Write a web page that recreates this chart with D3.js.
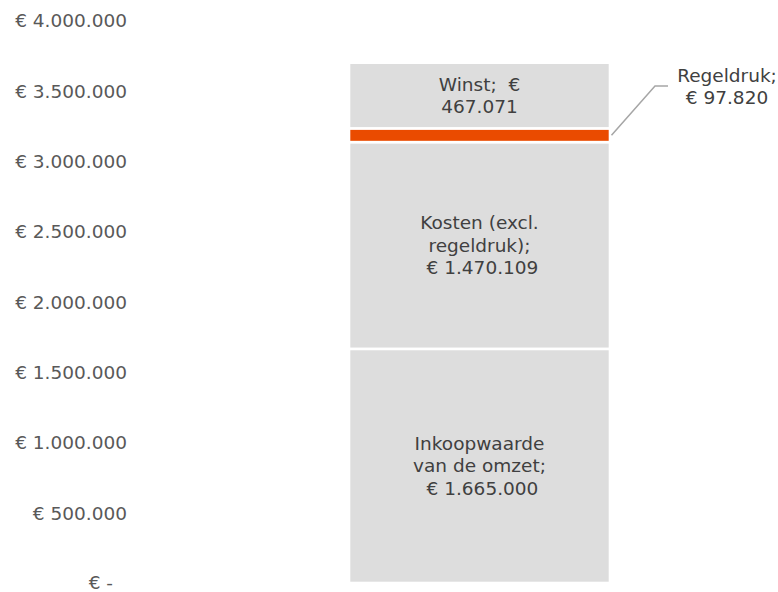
<!DOCTYPE html>
<html>
<head>
<meta charset="utf-8">
<script src="https://cdn.jsdelivr.net/npm/d3@7"></script>
<style>
  html, body { margin: 0; padding: 0; background: #fff; overflow: hidden; }
  svg { display: block; font-family: "DejaVu Sans", Verdana, sans-serif; }
  text { white-space: pre; }
</style>
</head>
<body>
<svg id="chart" width="778" height="592"></svg>
<script>
// Data
const segments = ["Inkoopwaarde van de omzet", "Kosten (excl. regeldruk)", "Regeldruk", "Winst"];
const values = [1665000, 1470109, 97820, 467071];
const segmentLabels = [
  ["Inkoopwaarde", "van de omzet;", " € 1.665.000"],
  ["Kosten (excl.", "regeldruk);", " € 1.470.109"],
  ["Regeldruk;", "€ 97.820"],
  ["Winst;  €", "467.071"]
];
const segmentColors = ["#DDDDDD", "#DDDDDD", "#EA4B00", "#DDDDDD"];
const tickValues = [0, 500000, 1000000, 1500000, 2000000, 2500000, 3000000, 3500000, 4000000];
const tickLabels = ["€ -", "€ 500.000", "€ 1.000.000", "€ 1.500.000", "€ 2.000.000", "€ 2.500.000", "€ 3.000.000", "€ 3.500.000", "€ 4.000.000"];
const category = ["Omzet"];

const svg = d3.select("#chart");
const FS = 18.5;

const y = d3.scaleLinear().domain([0, 4000000]).range([583, 20.5]);
const x = d3.scaleBand().domain(category).range([349, 610]).padding(0);

// Stack
let acc = 0;
const stacked = values.map((v, i) => {
  const d = { name: segments[i], y0: acc, y1: acc + v, color: segmentColors[i], label: segmentLabels[i], i };
  acc += v;
  return d;
});

// Axis
const axis = d3.axisLeft(y)
  .tickValues(tickValues)
  .tickSize(0)
  .tickPadding(0)
  .tickFormat(d => tickLabels[tickValues.indexOf(d)]);

const gAxis = svg.append("g").attr("transform", "translate(127,0)").call(axis);
gAxis.select(".domain").remove();
gAxis.selectAll("text")
  .attr("font-family", '"DejaVu Sans", Verdana, sans-serif')
  .attr("font-size", FS)
  .attr("fill", "#595959")
  .attr("dy", d => d === 0 ? "0.28em" : "0.35em")
  .attr("x", d => d === 0 ? -14 : 0);

// Bars
svg.append("g").selectAll("rect")
  .data(stacked)
  .join("rect")
  .attr("x", x(category[0]))
  .attr("width", x.bandwidth())
  .attr("y", d => y(d.y1))
  .attr("height", d => y(d.y0) - y(d.y1))
  .attr("fill", d => d.color)
  .attr("stroke", "#fff")
  .attr("stroke-width", 2.6);

// Labels inside bar
const cx = x(category[0]) + x.bandwidth() / 2;
const lineH = 22.5;
const inside = stacked.filter(d => d.name !== "Regeldruk");
const gl = svg.append("g")
  .attr("font-size", FS)
  .attr("fill", "#404040")
  .attr("text-anchor", "middle");

inside.forEach(d => {
  const cy = (y(d.y0) + y(d.y1)) / 2;
  const n = d.label.length;
  d.label.forEach((t, k) => {
    gl.append("text")
      .attr("x", cx)
      .attr("y", cy + (k - (n - 1) / 2) * lineH)
      .attr("dy", "0.35em")
      .text(t);
  });
});

// Regeldruk callout
const reg = stacked.find(d => d.name === "Regeldruk");
const regY = (y(reg.y0) + y(reg.y1)) / 2;
const barRight = x(category[0]) + x.bandwidth();
svg.append("polyline")
  .attr("points", [[barRight + 1.5, regY], [655, 86], [668, 86]].map(p => p.join(",")).join(" "))
  .attr("fill", "none")
  .attr("stroke", "#A6A6A6")
  .attr("stroke-width", 1.5);

reg.label.forEach((t, k) => {
  gl.append("text")
    .attr("x", 727)
    .attr("y", 76 + k * 22)
    .attr("dy", "0.35em")
    .text(t);
});
</script>
</body>
</html>
